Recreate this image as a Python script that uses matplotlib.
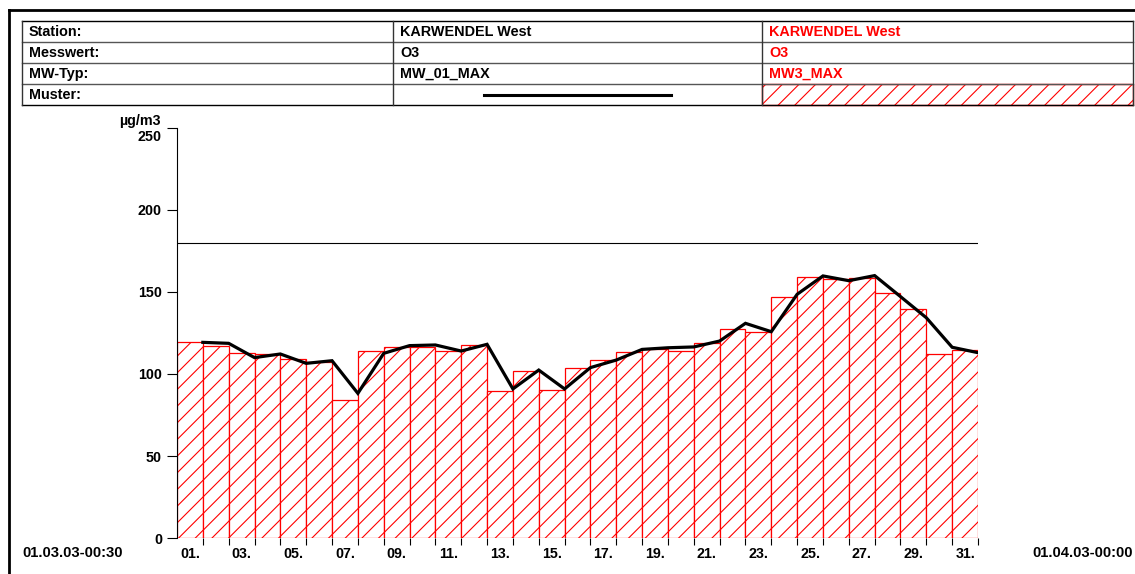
import matplotlib
matplotlib.use("Agg")
import matplotlib.pyplot as plt
from matplotlib.lines import Line2D
from matplotlib.patches import Rectangle
import numpy as np

# ---- data ----
days = list(range(1, 32))
mw3_max = [119.3, 117.3, 112.6, 112.2, 109.3, 107.5, 83.9, 113.8, 116.7, 116.7,
           113.8, 117.7, 89.8, 102.0, 90.0, 103.9, 108.5, 113.4, 115.0, 114.0,
           118.9, 127.4, 125.6, 147.2, 159.0, 158.1, 158.5, 149.2, 139.4, 112.2,
           114.6]
mw01_max = [119.3, 118.7, 110.0, 112.2, 106.5, 108.1, 88.2, 112.6, 117.3, 117.7,
            114.0, 118.1, 90.9, 102.4, 90.9, 103.9, 108.5, 115.0, 116.0, 116.5,
            120.1, 130.9, 125.8, 148.6, 159.8, 156.9, 160.0, 147.2, 134.3, 116.3,
            113.0]
threshold = 180
y_ticks = [0, 50, 100, 150, 200, 250]
x_labels = ["01.", "03.", "05.", "07.", "09.", "11.", "13.", "15.",
            "17.", "19.", "21.", "23.", "25.", "27.", "29.", "31."]
start_label = "01.03.03-00:30"
end_label = "01.04.03-00:00"
unit = "µg/m3"
table_rows = ["Station:", "Messwert:", "MW-Typ:", "Muster:"]
series1_info = ["KARWENDEL West", "O3", "MW_01_MAX"]
series2_info = ["KARWENDEL West", "O3", "MW3_MAX"]

W, H = 1135, 574
plt.rcParams['font.family'] = ['Liberation Sans', 'DejaVu Sans']
plt.rcParams['font.weight'] = 'bold'
plt.rcParams['font.size'] = 10
plt.rcParams['hatch.linewidth'] = 0.8

fig = plt.figure(figsize=(W / 100, H / 100), dpi=100)
PX = 72 / 100  # points per pixel

def fx(x):
    return x / W

def fy(y):
    return 1 - y / H

# page frame
fig.add_artist(Line2D([fx(9), fx(9)], [fy(10), fy(574)], color='black', lw=2.0))
fig.add_artist(Line2D([fx(9), fx(1135)], [fy(10), fy(10)], color='black', lw=2.0))

# header table
tl, tr = 22, 1133
c1, c2 = 393, 762
rows_y = [21, 42, 63, 84, 105]
for i, yy in enumerate(rows_y):
    col = 'black' if i in (0, len(rows_y) - 1) else '#555555'
    fig.add_artist(Line2D([fx(tl), fx(tr)], [fy(yy), fy(yy)], color=col, lw=1.0))
for xx in (tl, c1, c2, tr):
    fig.add_artist(Line2D([fx(xx), fx(xx)], [fy(21), fy(105)], color='#333333', lw=1.0))
for i, lab in enumerate(table_rows):
    yc = (rows_y[i] + rows_y[i + 1]) / 2 + 0.5
    fig.text(fx(29), fy(yc), lab, ha='left', va='center', fontsize=10.4, fontweight='bold')
    if i < 3:
        fig.text(fx(400), fy(yc), series1_info[i], ha='left', va='center',
                 fontsize=10.4, fontweight='bold', color='black')
        fig.text(fx(769), fy(yc), series2_info[i], ha='left', va='center',
                 fontsize=10.4, fontweight='bold', color='red')
# muster samples
fig.add_artist(Line2D([fx(484), fx(671)], [fy(95), fy(95)], color='black', lw=2.2))
fig.add_artist(Rectangle((fx(c2), fy(105)), fx(tr) - fx(c2), fy(84) - fy(105),
                         transform=fig.transFigure, facecolor='white',
                         edgecolor='red', hatch='//', lw=1.0))

# chart axes
ax_l, ax_r, ax_t, ax_b = 177, 978, 128, 538
ax = fig.add_axes([fx(ax_l), fy(ax_b), fx(ax_r) - fx(ax_l), fy(ax_t) - fy(ax_b)])
ax.set_xlim(0, 31)
ax.set_ylim(0, 250)

ax.bar([d - 1 for d in days], mw3_max, width=1.0, align='edge', facecolor='white',
       edgecolor='red', hatch='//', lw=0.9, zorder=2)
ax.plot(days, mw01_max, color='black', lw=2.3, zorder=4, solid_joinstyle='miter')
ax.plot([0, 31], [threshold, threshold], color='black', lw=0.8, zorder=3)

for s in ('top', 'right', 'bottom'):
    ax.spines[s].set_visible(False)
ax.spines['left'].set_linewidth(0.8)
ax.spines['left'].set_zorder(5)

ax.set_yticks(y_ticks)
ax.set_yticklabels([str(v) for v in y_ticks[:-1]] + [''])
ax.tick_params(axis='y', direction='out', length=10 * PX, width=0.8, pad=5 * PX,
               labelsize=10.3)
for t in ax.get_yticklabels():
    t.set_fontweight('bold')

ax.set_xticks(days)
ax.set_xticklabels([''] * len(days))
ax.set_xticks([d - 0.5 for d in days[::2]], minor=True)
ax.set_xticklabels(x_labels, minor=True, fontweight='bold', fontsize=10.3)
ax.tick_params(axis='x', which='major', direction='out', length=7 * PX, width=0.8)
ax.tick_params(axis='x', which='minor', length=0, pad=9 * PX)

ax.annotate(str(y_ticks[-1]), xy=(0, y_ticks[-1]), xycoords='data',
            xytext=(-16, -9), textcoords='offset pixels', ha='right', va='center',
            fontweight='bold', fontsize=10.3, annotation_clip=False)
ax.annotate(unit, xy=(0, y_ticks[-1]), xycoords='data',
            xytext=(-16, 7), textcoords='offset pixels', ha='right', va='center',
            fontweight='bold', fontsize=10.3, annotation_clip=False)

fig.text(fx(22), fy(553), start_label, ha='left', va='center', fontweight='bold', fontsize=10.6)
fig.text(fx(1133), fy(553), end_label, ha='right', va='center', fontweight='bold', fontsize=10.6)

fig.savefig("out.png", dpi=100)
